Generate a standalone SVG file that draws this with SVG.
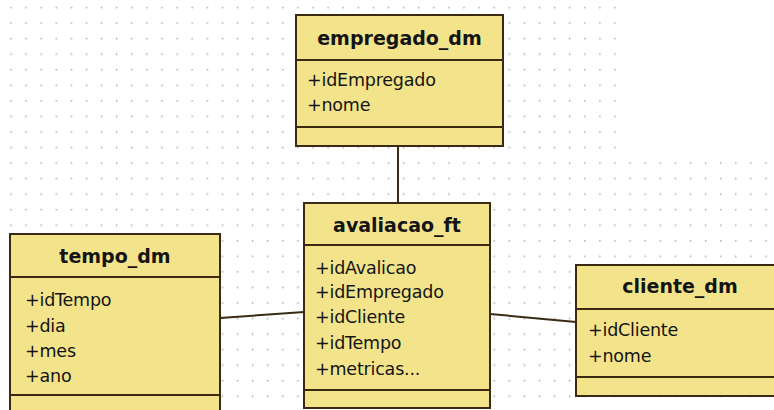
<svg xmlns="http://www.w3.org/2000/svg" width="774" height="410" viewBox="0 0 774 410">
<defs>
<pattern id="grid" patternUnits="userSpaceOnUse" x="0" y="0" width="15.1" height="15.55">
<circle cx="11" cy="7.5" r="0.9" fill="#b3b3b3"/>
</pattern>
<style>
.box{fill:#f3e48c;stroke:#3b2a12;stroke-width:2}
.div{stroke:#3b2a12;stroke-width:2}
.conn{stroke:#3b2a12;stroke-width:2;fill:none}
.hdr{font-family:"DejaVu Sans",Verdana,sans-serif;font-weight:bold;font-size:19px;fill:#141414;text-anchor:middle}
.attr{font-family:"DejaVu Sans",Verdana,sans-serif;font-size:17.5px;letter-spacing:-0.2px;fill:#141414}
</style>
</defs>
<rect width="774" height="410" fill="#ffffff"/>
<rect width="774" height="410" fill="url(#grid)"/>
<rect x="618" y="0" width="156" height="157" fill="#ffffff"/>

<g id="connectors">
<line class="conn" x1="398" y1="146" x2="398" y2="203"/>
<line class="conn" x1="220" y1="318" x2="304" y2="312"/>
<line class="conn" x1="490" y1="314" x2="576" y2="322"/>
</g>

<g id="empregado_dm">
<rect class="box" x="296" y="15" width="207" height="131"/>
<line class="div" x1="296" y1="60" x2="503" y2="60"/>
<line class="div" x1="296" y1="127" x2="503" y2="127"/>
<text class="hdr" x="399.5" y="45">empregado_dm</text>
<text class="attr" x="307" y="86">+idEmpregado</text>
<text class="attr" x="307" y="111">+nome</text>
</g>

<g id="tempo_dm">
<rect class="box" x="10" y="234" width="210" height="190"/>
<line class="div" x1="10" y1="277" x2="220" y2="277"/>
<line class="div" x1="10" y1="395" x2="220" y2="395"/>
<text class="hdr" x="115" y="263">tempo_dm</text>
<text class="attr" x="25" y="306">+idTempo</text>
<text class="attr" x="25" y="332">+dia</text>
<text class="attr" x="25" y="357">+mes</text>
<text class="attr" x="25" y="382">+ano</text>
</g>

<g id="avaliacao_ft">
<rect class="box" x="304" y="203" width="186" height="205"/>
<line class="div" x1="304" y1="245" x2="490" y2="245"/>
<line class="div" x1="304" y1="390" x2="490" y2="390"/>
<text class="hdr" x="397" y="232">avaliacao_ft</text>
<text class="attr" x="315" y="274">+idAvalicao</text>
<text class="attr" x="315" y="298">+idEmpregado</text>
<text class="attr" x="315" y="323">+idCliente</text>
<text class="attr" x="315" y="349">+idTempo</text>
<text class="attr" x="315" y="375">+metricas...</text>
</g>

<g id="cliente_dm">
<rect class="box" x="576" y="265" width="210" height="131"/>
<line class="div" x1="576" y1="309" x2="786" y2="309"/>
<line class="div" x1="576" y1="377" x2="786" y2="377"/>
<text class="hdr" x="680" y="293">cliente_dm</text>
<text class="attr" x="588" y="336">+idCliente</text>
<text class="attr" x="588" y="362">+nome</text>
</g>
</svg>
